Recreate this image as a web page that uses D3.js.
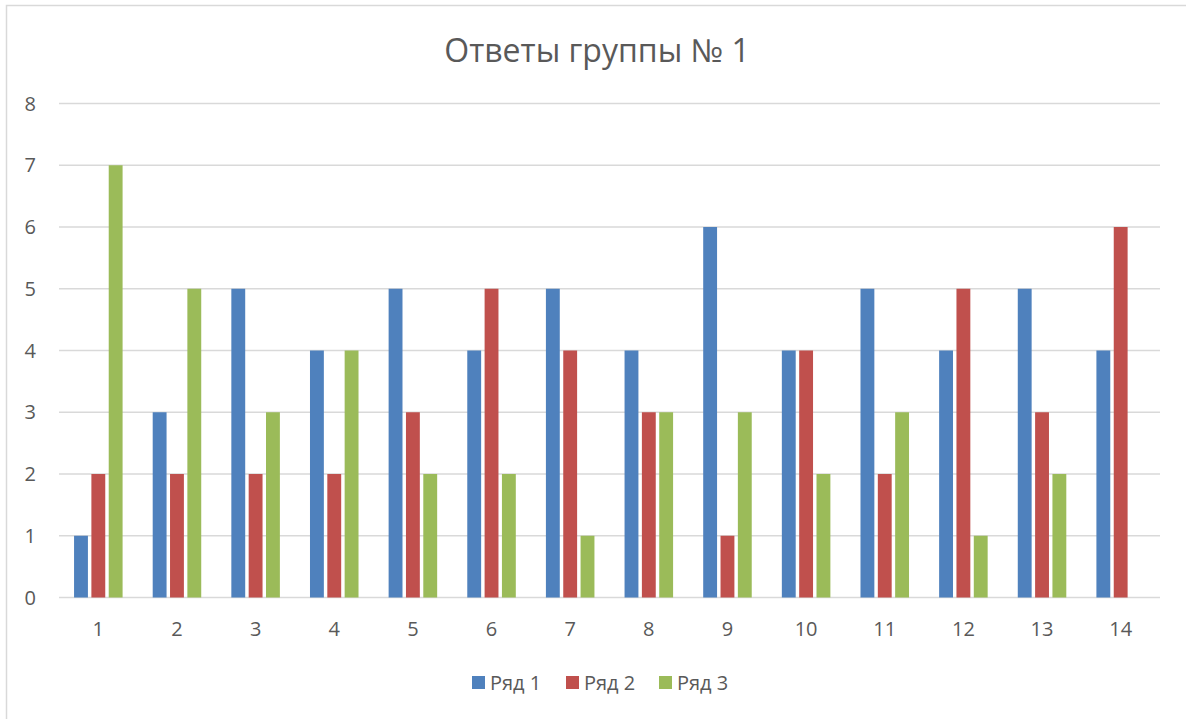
<!DOCTYPE html>
<html>
<head>
<meta charset="utf-8">
<script src="https://cdn.jsdelivr.net/npm/d3@7"></script>
<style>
  body { margin: 0; background: #fff; }
  svg { display: block; }
  text { font-family: "Open Sans", "Noto Sans", sans-serif; fill: #595959; }
</style>
</head>
<body>
<div class="graphic"></div>
<script>
const title = 'Ответы группы № 1';
const categories = ['1', '2', '3', '4', '5', '6', '7', '8', '9', '10', '11', '12', '13', '14'];
const seriesNames = ['Ряд 1', 'Ряд 2', 'Ряд 3'];
const row1 = [1, 3, 5, 4, 5, 4, 5, 4, 6, 4, 5, 4, 5, 4];
const row2 = [2, 2, 2, 2, 3, 5, 4, 3, 1, 4, 2, 5, 3, 6];
const row3 = [7, 5, 3, 4, 2, 2, 1, 3, 3, 2, 3, 1, 2, 0];
const yTicks = [0, 1, 2, 3, 4, 5, 6, 7, 8];
const colors = ['#4f81bd', '#c0504d', '#9bbb59'];

const series = [row1, row2, row3];
const width = 1186, height = 719;
const margin = { left: 59, right: 26, top: 103.5, bottom: 121.5 };

const svg = d3.select('.graphic')
  .append('svg')
  .attr('width', width)
  .attr('height', height);

// chart frame
svg.append('rect')
  .attr('x', 6.5).attr('y', 5.5)
  .attr('width', 1300).attr('height', 900)
  .attr('fill', 'none')
  .attr('stroke', '#d9d9d9')
  .attr('stroke-width', 1.5);

const x = d3.scaleBand()
  .domain(categories)
  .range([margin.left, width - margin.right])
  .paddingInner(0)
  .paddingOuter(0);

const groupW = 52;
const xs = d3.scaleBand()
  .domain(d3.range(series.length))
  .range([0, groupW])
  .paddingInner(0.2)
  .paddingOuter(0.1);

const y = d3.scaleLinear()
  .domain([0, 8])
  .range([height - margin.bottom, margin.top]);

// gridlines
svg.selectAll('line.grid')
  .data(yTicks)
  .enter()
  .append('line')
  .attr('class', 'grid')
  .attr('x1', margin.left)
  .attr('x2', width - margin.right)
  .attr('y1', d => y(d))
  .attr('y2', d => y(d))
  .attr('stroke', '#d9d9d9')
  .attr('stroke-width', 1.5);

// y tick labels
svg.selectAll('text.ytick')
  .data(yTicks)
  .enter()
  .append('text')
  .attr('class', 'ytick')
  .attr('x', 36)
  .attr('y', d => y(d))
  .attr('dy', '0.36em')
  .attr('text-anchor', 'end')
  .attr('font-size', 20)
  .text(d => d);

// bars
series.forEach((vals, s) => {
  svg.selectAll('rect.bar-' + s)
    .data(vals)
    .enter()
    .append('rect')
    .attr('class', 'bar-' + s)
    .attr('x', (d, i) => x(categories[i]) + (x.bandwidth() - groupW) / 2 + xs(s))
    .attr('width', xs.bandwidth())
    .attr('y', d => y(d))
    .attr('height', d => y(0) - y(d))
    .attr('fill', colors[s]);
});

// x tick labels
svg.selectAll('text.xtick')
  .data(categories)
  .enter()
  .append('text')
  .attr('class', 'xtick')
  .attr('x', d => x(d) + x.bandwidth() / 2)
  .attr('y', 636)
  .attr('text-anchor', 'middle')
  .attr('font-size', 20)
  .text(d => d);

// title
svg.append('text')
  .attr('x', 597)
  .attr('y', 62)
  .attr('text-anchor', 'middle')
  .attr('font-size', 32)
  .text(title);

// legend
const legendX = [472, 566, 659];
const legend = svg.selectAll('g.legend')
  .data(seriesNames)
  .enter()
  .append('g')
  .attr('class', 'legend')
  .attr('transform', (d, i) => `translate(${legendX[i]},676)`);

legend.append('rect')
  .attr('width', 13)
  .attr('height', 13)
  .attr('fill', (d, i) => colors[i]);

legend.append('text')
  .attr('x', 18)
  .attr('y', 13.5)
  .attr('font-size', 20)
  .text(d => d);
</script>
</body>
</html>
